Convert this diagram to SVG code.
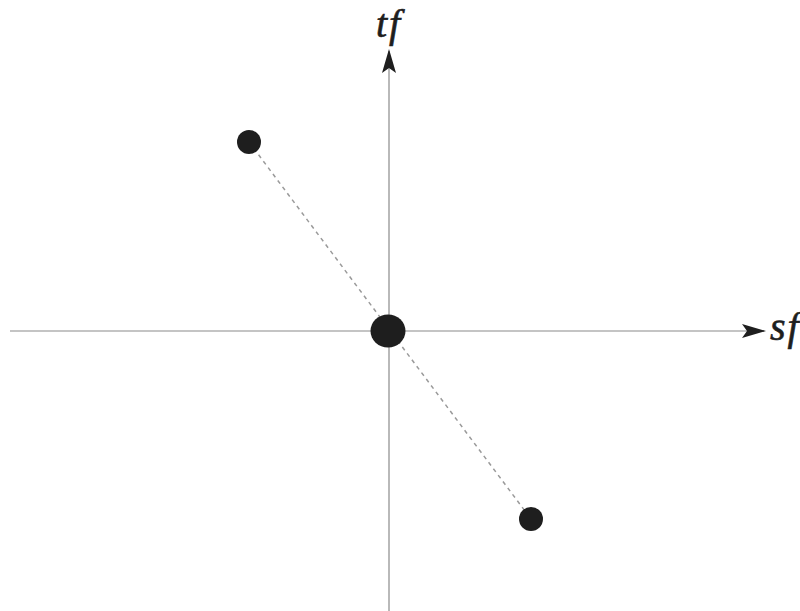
<svg xmlns="http://www.w3.org/2000/svg" width="800" height="611" viewBox="0 0 800 611">
<style>
.axis{stroke:#8a8a8a;stroke-width:1.2;fill:none}
.dash{stroke:#9a9a9a;stroke-width:1.5;stroke-dasharray:4 4;fill:none}
.dot{fill:#1e1e1e}
.lbl{font-family:"Liberation Serif","Times New Roman",serif;font-style:italic;font-size:40px;fill:#1e1e1e;stroke:#1e1e1e;stroke-width:0.6;letter-spacing:2px}
</style>
<defs>
<marker id="arr" viewBox="0 0 24 14" refX="22" refY="7" markerWidth="24" markerHeight="14" markerUnits="userSpaceOnUse" orient="auto">
<path d="M0,0 L24,7 L0,14 L5,7 Z" fill="#1e1e1e"/>
</marker>
</defs>
<g id="connectors">
<line class="axis" x1="389" y1="611" x2="389" y2="51" marker-end="url(#arr)"/>
<line class="axis" x1="10" y1="331" x2="764" y2="331" marker-end="url(#arr)"/>
<line class="dash" x1="249" y1="142" x2="531" y2="519"/>
</g>
<g id="label-tf"><text class="lbl" x="376" y="37">tf</text></g>
<g id="label-sf"><text class="lbl" x="770" y="340">sf</text></g>
<g id="dot-center"><ellipse class="dot" cx="388" cy="331" rx="17.5" ry="16.5"/></g>
<g id="dot-upper"><circle class="dot" cx="249" cy="142" r="12"/></g>
<g id="dot-lower"><circle class="dot" cx="531" cy="519" r="12"/></g>
</svg>
